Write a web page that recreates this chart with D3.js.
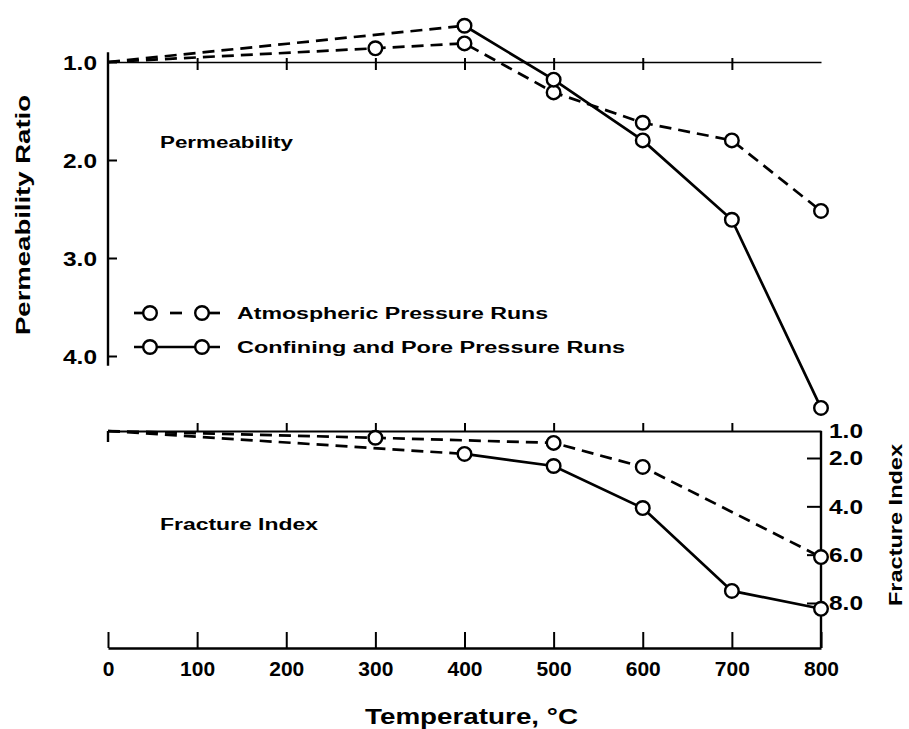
<!DOCTYPE html>
<html>
<head>
<meta charset="utf-8">
<script src="https://cdn.jsdelivr.net/npm/d3@7"></script>
<style>
  html, body { margin: 0; padding: 0; background: #fff; }
  svg { display: block; }
  text { fill: #000; }
</style>
</head>
<body>
<svg id="chart" width="909" height="729"></svg>
<script>
// ---------------- DATA ----------------
const tempTicks = [0, 100, 200, 300, 400, 500, 600, 700, 800];
const permTicks = [1.0, 2.0, 3.0, 4.0];
const fracTicks = [1.0, 2.0, 4.0, 6.0, 8.0];

// Permeability ratio (top panel)
const permAtmTemps  = [0, 300, 400, 500, 600, 700, 800];
const permAtmValues = [1.0, 0.86, 0.81, 1.31, 1.62, 1.80, 2.52];
const permConfTemps  = [0, 400, 500, 600, 700, 800];
const permConfValues = [1.0, 0.63, 1.18, 1.80, 2.61, 4.53];

// Fracture index (bottom panel)
const fracAtmTemps  = [0, 300, 500, 600, 800];
const fracAtmValues = [1.0, 1.25, 1.44, 2.37, 6.1];
const fracConfTemps  = [0, 400, 500, 600, 700, 800];
const fracConfValues = [1.0, 1.85, 2.33, 4.07, 7.5, 8.24];

const legendLabels = ["Atmospheric Pressure Runs", "Confining and Pore Pressure Runs"];

// ---------------- SCALES ----------------
const svg = d3.select("#chart");
const x = d3.scaleLinear().domain([0, 800]).range([108, 821]);
const yTop = d3.scaleLinear().domain([1, 4]).range([62, 356]);
const yBot = d3.scaleLinear().domain([1, 2, 8]).range([431, 458, 603]);

const FONT = "'Liberation Sans', Arial, sans-serif";
const SW = 2.7;

function styleAxis(g) {
  g.selectAll("path.domain").attr("stroke", "#000").attr("stroke-width", 2);
  g.selectAll(".tick line").attr("stroke", "#000").attr("stroke-width", 2);
}

// ---------------- TOP PANEL AXES ----------------
const gTopX = svg.append("g").attr("transform", `translate(0,${yTop(1)})`)
  .call(d3.axisBottom(x).tickValues(tempTicks.slice(1, 8)).tickSize(8).tickSizeOuter(0).tickFormat(""));
styleAxis(gTopX);
gTopX.select("path.domain").attr("stroke-width", 1.6);
gTopX.selectAll(".tick line").attr("y1", -4);

const gTopY = svg.append("g").attr("transform", `translate(${x(0)},0)`)
  .call(d3.axisRight(yTop).tickValues(permTicks).tickSize(9).tickSizeOuter(0).tickFormat(""));
styleAxis(gTopY);
gTopY.select("path.domain").attr("d", `M0,${yTop(0.9)}V${yTop(4.1)}`).attr("stroke-width", 2.4);
gTopY.selectAll(".tick").append("text")
  .attr("x", -11).attr("dy", "0.36em").attr("text-anchor", "end")
  .attr("font-family", FONT).attr("font-weight", "bold").attr("font-size", 20)
  .attr("textLength", 34).attr("lengthAdjust", "spacingAndGlyphs")
  .text(d => d.toFixed(1));

// ---------------- BOTTOM PANEL AXES ----------------
const bottomY = 648;
const gBotTop = svg.append("g").attr("transform", `translate(0,${yBot(1)})`)
  .call(d3.axisTop(x).tickValues(tempTicks.slice(1, 8)).tickSize(8).tickSizeOuter(0).tickFormat(""));
styleAxis(gBotTop);
gBotTop.select("path.domain").attr("stroke-width", 2.2);
svg.append("line").attr("x1", x(0)).attr("x2", x(0))
  .attr("y1", yBot(1)).attr("y2", yBot(1) + 11).attr("stroke", "#000").attr("stroke-width", 2.4);

const gBotX = svg.append("g").attr("transform", `translate(0,${bottomY})`)
  .call(d3.axisTop(x).tickValues(tempTicks).tickSize(16).tickSizeOuter(0).tickFormat(""));
styleAxis(gBotX);
gBotX.select("path.domain").attr("stroke-width", 2.4);
gBotX.selectAll(".tick").append("text")
  .attr("y", 28).attr("text-anchor", "middle")
  .attr("font-family", FONT).attr("font-weight", "bold").attr("font-size", 21)
  .text(d => d);

const gBotY = svg.append("g").attr("transform", `translate(${x(800)},0)`)
  .call(d3.axisLeft(yBot).tickValues(fracTicks.slice(1)).tickSize(14).tickSizeOuter(0).tickFormat(""));
styleAxis(gBotY);
gBotY.select("path.domain").attr("d", `M0,${yBot(1)}V${bottomY}`).attr("stroke-width", 2.4);
svg.append("g").selectAll("text").data(fracTicks).join("text")
  .attr("x", x(800) + 8).attr("y", d => yBot(d)).attr("dy", "0.36em")
  .attr("font-family", FONT).attr("font-weight", "bold").attr("font-size", 20)
  .attr("textLength", 34).attr("lengthAdjust", "spacingAndGlyphs")
  .text(d => d.toFixed(1));

// ---------------- AXIS TITLES & PANEL LABELS ----------------
svg.append("text")
  .attr("transform", `translate(30,${(95 + 335) / 2}) rotate(-90)`)
  .attr("text-anchor", "middle").attr("font-family", FONT).attr("font-weight", "bold")
  .attr("font-size", 20).attr("textLength", 240).attr("lengthAdjust", "spacingAndGlyphs")
  .text("Permeability Ratio");

svg.append("text")
  .attr("transform", `translate(902,${(445 + 605) / 2}) rotate(-90)`)
  .attr("text-anchor", "middle").attr("font-family", FONT).attr("font-weight", "bold")
  .attr("font-size", 19).attr("textLength", 162).attr("lengthAdjust", "spacingAndGlyphs")
  .text("Fracture Index");

svg.append("text")
  .attr("x", (365 + 578) / 2).attr("y", 724)
  .attr("text-anchor", "middle").attr("font-family", FONT).attr("font-weight", "bold")
  .attr("font-size", 22).attr("textLength", 213).attr("lengthAdjust", "spacingAndGlyphs")
  .text("Temperature, °C");

svg.append("text")
  .attr("x", 160).attr("y", 148).attr("font-family", FONT).attr("font-weight", "bold")
  .attr("font-size", 16).attr("textLength", 133).attr("lengthAdjust", "spacingAndGlyphs")
  .text("Permeability");

svg.append("text")
  .attr("x", 160).attr("y", 530).attr("font-family", FONT).attr("font-weight", "bold")
  .attr("font-size", 16).attr("textLength", 158).attr("lengthAdjust", "spacingAndGlyphs")
  .text("Fracture Index");

// ---------------- SERIES ----------------
const DASH = "12,7";
function zip(ts, vs) { return ts.map((t, i) => ({ t, v: vs[i] })); }

function drawSeries(ts, vs, yScale, solid) {
  const pts = zip(ts, vs);
  const line = d3.line().x(d => x(d.t)).y(d => yScale(d.v));
  if (solid) {
    svg.append("path").attr("d", line(pts.slice(0, 2))).attr("fill", "none")
      .attr("stroke", "#000").attr("stroke-width", SW).attr("stroke-dasharray", DASH);
    svg.append("path").attr("d", line(pts.slice(1))).attr("fill", "none")
      .attr("stroke", "#000").attr("stroke-width", SW);
  } else {
    svg.append("path").attr("d", line(pts)).attr("fill", "none")
      .attr("stroke", "#000").attr("stroke-width", SW).attr("stroke-dasharray", DASH);
  }
  svg.append("g").selectAll("circle").data(pts.slice(1)).join("circle")
    .attr("cx", d => x(d.t)).attr("cy", d => yScale(d.v)).attr("r", 6.8)
    .attr("fill", "#fff").attr("stroke", "#000").attr("stroke-width", 2.4);
}

drawSeries(permAtmTemps, permAtmValues, yTop, false);
drawSeries(permConfTemps, permConfValues, yTop, true);
drawSeries(fracAtmTemps, fracAtmValues, yBot, false);
drawSeries(fracConfTemps, fracConfValues, yBot, true);

// ---------------- LEGEND ----------------
const legendY = [313, 347];
legendLabels.forEach((lab, i) => {
  const g = svg.append("g");
  const yy = legendY[i];
  const segs = i === 0 ? [[134, 150], [170, 182], [202, 220]] : [[134, 220]];
  segs.forEach(s => g.append("line").attr("x1", s[0]).attr("x2", s[1]).attr("y1", yy).attr("y2", yy)
    .attr("stroke", "#000").attr("stroke-width", SW));
  [150, 202].forEach(cx => g.append("circle").attr("cx", cx).attr("cy", yy).attr("r", 6.8)
    .attr("fill", "#fff").attr("stroke", "#000").attr("stroke-width", 2.4));
  g.append("text").attr("x", 237).attr("y", yy).attr("dy", "0.36em")
    .attr("font-family", FONT).attr("font-weight", "bold").attr("font-size", 16)
    .attr("textLength", i === 0 ? 311 : 388).attr("lengthAdjust", "spacingAndGlyphs")
    .text(lab);
});
</script>
</body>
</html>
